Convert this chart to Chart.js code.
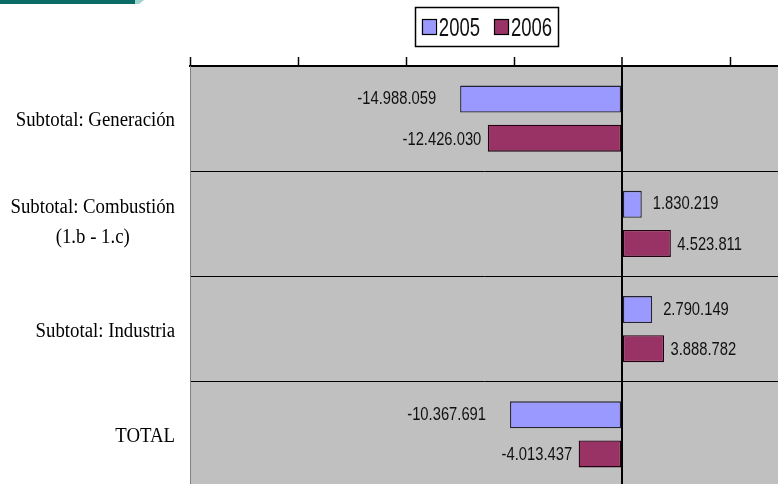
<!DOCTYPE html>
<html>
<head>
<meta charset="utf-8">
<title>Subtotales 2005 / 2006</title>
<script src="https://cdn.jsdelivr.net/npm/chart.js@4.4.1/dist/chart.umd.min.js"></script>
<style>
  html, body { margin: 0; padding: 0; background: #ffffff; overflow: hidden; }
  #wrap { position: relative; width: 778px; height: 484px; overflow: hidden; }
  #band { position: absolute; left: 0; top: 0; width: 135px; height: 4px; background: #0b6b66; }
  #band-tip { position: absolute; left: 135px; top: 0; width: 9px; height: 4px; background: #9fd3cd;
              clip-path: polygon(0 0, 100% 0, 45% 100%, 0 100%); }
  canvas { position: absolute; left: 0; top: 0; }
</style>
</head>
<body>
<div id="wrap">
  <div id="band"></div>
  <div id="band-tip"></div>
  <canvas id="chart" width="778" height="490"></canvas>
</div>
<script>
// Categories (multi-line labels) and the two yearly series
const categories = [
  ['Subtotal: Generación'],
  ['Subtotal: Combustión', '(1.b - 1.c)'],
  ['Subtotal: Industria'],
  ['TOTAL']
];
const seriesNames = ['2005', '2006'];
const values2005 = [-14988059, 1830219, 2790149, -10367691];
const values2006 = [-12426030, 4523811, 3888782, -4013437];

// Value axis: tick marks every 10 million, range running off the right edge
const axisMin = -40000000;
const axisMax = 14444000;
const tickValues = [-40000000, -30000000, -20000000, -10000000, 0, 10000000];

// Thousands separated with dots
function fmt(v) {
  const s = Math.abs(v).toString().replace(/\B(?=(\d{3})+(?!\d))/g, '.');
  return (v < 0 ? '-' : '') + s;
}

// Draw horizontally condensed text
function condensed(ctx, text, x, y, align, sx) {
  ctx.save();
  ctx.translate(x, y);
  ctx.scale(sx, 1);
  ctx.textAlign = align;
  ctx.fillText(text, 0, 0);
  ctx.restore();
}

const decor = {
  id: 'decor',
  beforeDraw(chart) {
    const { ctx, chartArea: a } = chart;
    ctx.save();
    ctx.fillStyle = '#c0c0c0';
    ctx.fillRect(a.left, a.top, a.right - a.left, a.bottom - a.top);
    ctx.restore();
  },
  afterDraw(chart) {
    const { ctx } = chart;
    const yScale = chart.scales.y;

    // Category labels: right edge fixed, lines centred on each other
    ctx.save();
    ctx.fillStyle = '#000';
    ctx.textBaseline = 'alphabetic';
    ctx.font = '20px "Liberation Serif", "Times New Roman", serif';
    const catSx = 0.94, rightEdge = 175, lineH = 30;
    chart.data.labels.forEach((lines, i) => {
      const cy = yScale.getPixelForValue(i);
      const widths = lines.map(l => ctx.measureText(l).width * catSx);
      const maxW = Math.max(...widths);
      const cx = rightEdge - maxW / 2;
      const n = lines.length;
      const mid = cy + 7.5 - (n - 1) * 3;
      lines.forEach((l, k) => {
        const by = mid + (k - (n - 1) / 2) * lineH;
        condensed(ctx, l, cx, by, 'center', catSx);
      });
    });
    ctx.restore();

    // Value labels at the outer end of each bar
    ctx.save();
    ctx.fillStyle = '#111';
    ctx.textBaseline = 'alphabetic';
    ctx.font = '18px "Liberation Sans", Arial, sans-serif';
    chart.data.datasets.forEach((ds, d) => {
      const meta = chart.getDatasetMeta(d);
      meta.data.forEach((bar, i) => {
        const v = ds.data[i];
        const by = bar.y + 6.5 - (ds.labelLift || 0);
        if (v < 0) {
          condensed(ctx, fmt(v), bar.x - ds.gapNeg, by, 'right', 0.82);
        } else {
          condensed(ctx, fmt(v), bar.x + ds.gapPos, by, 'left', 0.82);
        }
      });
    });
    ctx.restore();

    // Legend box
    ctx.save();
    ctx.font = '25px "Liberation Sans", Arial, sans-serif';
    ctx.textBaseline = 'alphabetic';
    const legSx = 0.74, sw = 14, sh = 15, gapText = 3, gapItem = 14;
    const items = chart.data.datasets.map(ds => ({
      ds, w: ctx.measureText(ds.label).width * legSx
    }));
    const total = items.reduce((s, it) => s + sw + gapText + it.w, 0) + gapItem * (items.length - 1);
    const padX = 6.5;
    const centre = 487;
    let x = centre - total / 2;
    const boxL = x - padX, boxR = x + total + padX;
    ctx.fillStyle = '#ffffff';
    ctx.fillRect(boxL, 7.5, boxR - boxL, 39);
    ctx.strokeStyle = '#000';
    ctx.lineWidth = 1.5;
    ctx.strokeRect(Math.round(boxL) + 0.5, 7.5, Math.round(boxR - boxL), 39);
    items.forEach(it => {
      ctx.fillStyle = it.ds.backgroundColor;
      ctx.fillRect(x, 19.5, sw, sh);
      ctx.lineWidth = 1.2;
      ctx.strokeStyle = '#000';
      ctx.strokeRect(Math.round(x) + 0.5, 19.5, sw, sh);
      ctx.fillStyle = '#111';
      condensed(ctx, it.ds.label, x + sw + gapText, 35.5, 'left', legSx);
      x += sw + gapText + it.w + gapItem;
    });
    ctx.restore();
  }
};

new Chart(document.getElementById('chart'), {
  type: 'bar',
  data: {
    labels: categories,
    datasets: [
      {
        label: seriesNames[0],
        data: values2005,
        backgroundColor: '#9999ff',
        borderColor: '#222233',
        borderWidth: 1.3,
        borderSkipped: false,
        gapNeg: 24,
        gapPos: 11,
        labelLift: 1.5
      },
      {
        label: seriesNames[1],
        data: values2006,
        backgroundColor: '#993366',
        borderColor: '#220011',
        borderWidth: 1.3,
        borderSkipped: false,
        gapNeg: 6.5,
        gapPos: 6.5,
        labelLift: 0
      }
    ]
  },
  options: {
    indexAxis: 'y',
    responsive: false,
    devicePixelRatio: 1,
    animation: false,
    categoryPercentage: 0.743,
    barPercentage: 0.69,
    layout: { padding: { top: 57, left: 0, right: 0, bottom: 3 } },
    plugins: {
      legend: { display: false },
      tooltip: { enabled: false }
    },
    scales: {
      x: {
        type: 'linear',
        position: 'top',
        min: axisMin,
        max: axisMax,
        afterFit(s) { s.height = 9; },
        afterBuildTicks(s) { s.ticks = tickValues.map(v => ({ value: v })); },
        ticks: { display: false },
        grid: {
          drawOnChartArea: true,
          color: c => (c.tick && c.tick.value === 0 ? '#000' : 'rgba(0,0,0,0)'),
          lineWidth: c => (c.tick && c.tick.value === 0 ? 2 : 1),
          tickColor: '#000',
          tickLength: 9,
          tickWidth: 1.5
        },
        border: { display: true, color: '#000', width: 2 }
      },
      y: {
        type: 'category',
        afterFit(s) { s.width = 190; },
        ticks: { display: false },
        grid: { color: '#000', lineWidth: 1, drawTicks: false, offset: true },
        border: { display: true, color: '#808080', width: 1 }
      }
    }
  },
  plugins: [decor]
});
</script>
</body>
</html>
